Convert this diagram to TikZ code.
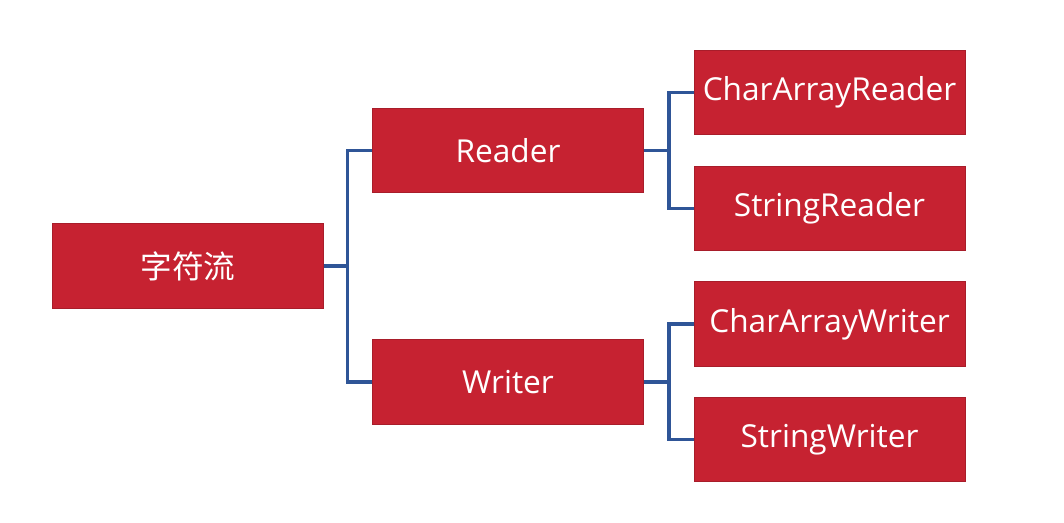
\documentclass[tikz,border=0pt]{standalone}
\usepackage{fontspec}
\setmainfont{Open Sans}
\newfontfamily\cjk{Noto Sans CJK SC}
\usepackage{tikz}
\usetikzlibrary{positioning}
\definecolor{boxred}{RGB}{198,34,49}
\definecolor{linkblue}{RGB}{47,85,151}

\begin{document}
\begin{tikzpicture}[x=0.02cm, y=-0.02cm,
  box/.style={fill=boxred,draw=boxred!85!black,line width=0.3pt,text=white,minimum width=5.42cm,minimum height=1.69cm,inner sep=0pt,font=\fontsize{18}{21}\selectfont},
  link/.style={draw=linkblue,line width=2pt}]
\useasboundingbox (0,0) rectangle (1064,523);
\node[box] (stream) at (188,266) {\cjk 字符流};
\node[box] (reader) at (508,150.5) {Reader};
\node[box] (writer) at (508,382) {Writer};
\node[box] (chararrayreader) at (829.5,92.5) {CharArrayReader};
\node[box] (stringreader) at (829.5,208.5) {StringReader};
\node[box] (chararraywriter) at (829.5,324) {CharArrayWriter};
\node[box] (stringwriter) at (829.5,439.5) {StringWriter};
\draw[link] (stream.east) -- ++(24,0) |- (reader.west);
\draw[link] (stream.east) -- ++(24,0) |- (writer.west);
\draw[link] (reader.east) -- ++(25,0) |- (chararrayreader.west);
\draw[link] (reader.east) -- ++(25,0) |- (stringreader.west);
\draw[link] (writer.east) -- ++(25,0) |- (chararraywriter.west);
\draw[link] (writer.east) -- ++(25,0) |- (stringwriter.west);
\end{tikzpicture}
\end{document}
